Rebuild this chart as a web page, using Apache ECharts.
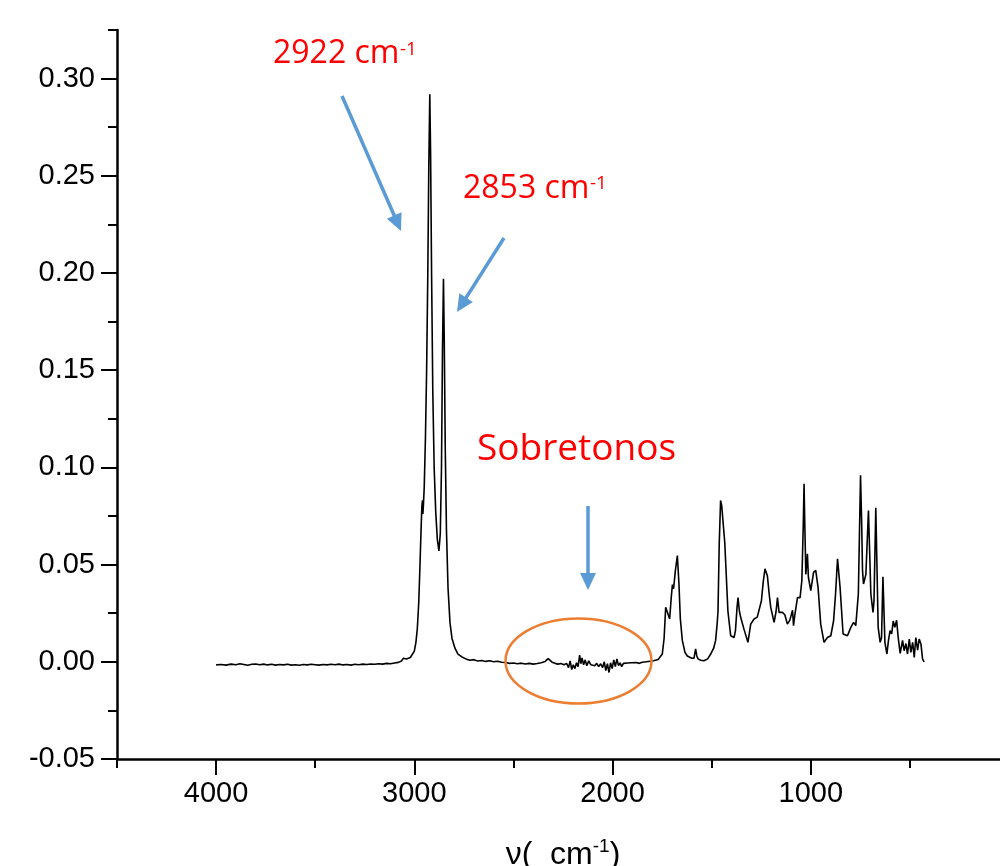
<!DOCTYPE html>
<html>
<head>
<meta charset="utf-8">
<script src="https://cdn.jsdelivr.net/npm/echarts@6/dist/echarts.min.js"></script>
<style>
html,body{margin:0;padding:0;background:#fff;overflow:hidden;}
#chart{width:1000px;height:866px;}
</style>
</head>
<body>
<div id="chart"></div>
<script>
// ---- Data ----
const wavenumber = [
4000,3975,3950,3925,3900,3880,3860,3840,3820,3800,3780,3760,3740,3720,3700,3680,3660,3640,3620,3600,
3580,3560,3540,3520,3500,3480,3460,3440,3420,3400,3380,3360,3340,3320,3300,3280,3260,3240,3220,3200,
3180,3160,3140,3120,3100,3080,3065,3055,3048,3040,3030,3020,3010,3000,2992,2985,2978,2972,2966,2962,
2959,2957,2955,2950,2944,2938,2932,2927,2922,2918,2913,2907,2900,2892,2884,2876,2869,2863,2858,2853,
2849,2844,2838,2830,2820,2810,2795,2780,2760,2740,2720,2700,2680,2660,2640,2620,2600,2580,2560,2540,
2520,2500,2480,2460,2440,2420,2400,2380,2360,2340,2325,2315,2305,2290,2275,2260,2245,2232,2222,2214,
2206,2198,2190,2182,2174,2166,2160,2154,2146,2138,2130,2120,2110,2100,2090,2080,2070,2060,2050,2042,
2034,2026,2018,2010,2002,1994,1986,1978,1970,1962,1954,1945,1935,1925,1915,1905,1895,1880,1865,1850,
1830,1810,1793,1770,1749,1740,1732,1725,1712,1704,1698,1692,1683,1673,1665,1658,1648,1635,1623,1600,
1589,1581,1575,1569,1555,1539,1520,1505,1490,1480,1472,1468,1462,1455,1449,1446,1441,1438,1434,1429,
1418,1404,1395,1387,1380,1372,1367,1360,1354,1337,1317,1303,1286,1270,1261,1249,1240,1231,1225,1219,
1210,1202,1185,1175,1168,1160,1143,1131,1118,1106,1092,1087,1081,1067,1054,1045,1038,1034,1030,1025,
1017,1012,1000,986,975,963,950,933,916,899,885,875,865,858,852,837,815,798,784,773,
760,749,743,739,734,722,709,697,686,681,672,660,650,643,636,626,616,608,600,592,
584,576,567,559,549,537,529,520,512,503,495,486,478,470,461,453,444,436,428
];
const absorbance = [
-0.0016,-0.0014,-0.0017,-0.0012,-0.0015,-0.0010,-0.0014,-0.0018,-0.0013,-0.0011,-0.0015,-0.0012,-0.0016,-0.0013,-0.0017,-0.0014,-0.0016,-0.0013,-0.0017,-0.0015,
-0.0018,-0.0014,-0.0016,-0.0013,-0.0015,-0.0017,-0.0014,-0.0016,-0.0013,-0.0015,-0.0012,-0.0016,-0.0014,-0.0017,-0.0013,-0.0015,-0.0012,-0.0014,-0.0011,-0.0013,
-0.0010,-0.0012,-0.0008,-0.0010,-0.0006,-0.0003,0.0004,0.0018,0.0024,0.0014,0.0015,0.0022,0.0032,0.0055,0.010,0.017,0.030,0.048,0.068,0.080,
0.083,0.076,0.079,0.090,0.115,0.150,0.200,0.255,0.292,0.262,0.200,0.140,0.100,0.077,0.063,0.057,0.066,0.100,0.160,0.197,
0.165,0.110,0.068,0.038,0.020,0.012,0.007,0.004,0.0025,0.0015,0.0008,0.0011,0.0004,0.0007,0.0002,0.0005,0.0000,0.0003,-0.0002,-0.0004,
-0.0008,-0.0006,-0.0010,-0.0007,-0.0011,-0.0008,-0.0012,-0.0009,-0.0005,0.0002,0.0016,0.0010,-0.0002,-0.0008,-0.0012,-0.0009,-0.0015,-0.0008,-0.0030,0.0005,
-0.0040,-0.0015,-0.0035,-0.0005,-0.0025,0.0035,-0.0010,0.0020,-0.0015,0.0010,-0.0020,0.0005,-0.0015,-0.0005,-0.0020,-0.0008,-0.0025,-0.0010,-0.0030,0.0000,
-0.0045,-0.0010,-0.0055,-0.0005,-0.0035,0.0010,-0.0025,0.0015,-0.0020,-0.0005,-0.0025,-0.0008,-0.0018,-0.0006,-0.0014,-0.0005,-0.0012,-0.0004,-0.0008,-0.0002,
0.0000,0.0003,0.0005,0.0012,0.004,0.012,0.028,0.026,0.022,0.033,0.0397,0.0376,0.047,0.0546,0.040,0.022,0.011,0.005,0.003,0.0018,
0.0019,0.0067,0.003,0.0015,0.0008,0.0005,0.0015,0.004,0.007,0.011,0.020,0.026,0.060,0.083,0.080,0.081,0.070,0.069,0.0615,0.0615,
0.026,0.0134,0.0125,0.0125,0.016,0.028,0.033,0.026,0.023,0.0168,0.010,0.0194,0.022,0.023,0.024,0.0314,0.041,0.0478,0.046,0.0443,
0.035,0.028,0.0203,0.026,0.033,0.0254,0.0254,0.0242,0.0194,0.0213,0.0265,0.0186,0.0237,0.033,0.033,0.0418,0.070,0.0916,0.070,0.045,
0.0555,0.0435,0.0366,0.046,0.047,0.038,0.0194,0.010,0.0125,0.0134,0.021,0.035,0.053,0.045,0.038,0.0143,0.0134,0.0177,0.0203,0.0186,
0.035,0.0959,0.070,0.047,0.040,0.045,0.0778,0.035,0.0254,0.0314,0.0792,0.0177,0.010,0.0125,0.0438,0.010,0.004,0.011,0.016,0.0143,
0.021,0.0177,0.0214,0.0125,0.0043,0.011,0.0057,0.0094,0.004,0.0117,0.0048,0.010,0.0022,0.0125,0.0060,0.0117,0.009,0.0014,0.0000
];
const yMajorTicks = [-0.05, 0.00, 0.05, 0.10, 0.15, 0.20, 0.25, 0.30];
const yMinorTicks = [-0.025, 0.025, 0.075, 0.125, 0.175, 0.225, 0.275, 0.325];
const xMajorTicks = [0, 1000, 2000, 3000, 4000];
const xLabelTicks = [1000, 2000, 3000, 4000];
const xMinorTicks = [500, 1500, 2500, 3500, 4500];
const annotations = {peak1: '2922 cm', peak2: '2853 cm', sup: '-1', overtone: 'Sobretonos'};

// ---- Chart ----
const seriesData = wavenumber.map((w, i) => [w, absorbance[i]]);
const chart = echarts.init(document.getElementById('chart'), null, {renderer: 'canvas', width: 1000, height: 866});
const TICKFONT = 'Liberation Sans, Arial, sans-serif';
const BLUE = '#5B9BD5';
const RED = '#FF0000';

function arrow(x1, y1, x2, y2) {
  const dx = x2 - x1, dy = y2 - y1, L = Math.hypot(dx, dy);
  const ux = dx / L, uy = dy / L, hl = 17, hw = 8;
  const bx = x2 - ux * hl, by = y2 - uy * hl;
  return [
    {type: 'line', z: 100, shape: {x1: x1, y1: y1, x2: bx + ux * 2, y2: by + uy * 2},
     style: {stroke: BLUE, lineWidth: 3.5}},
    {type: 'polygon', z: 100, shape: {points: [[x2, y2], [bx - uy * hw, by + ux * hw], [bx + uy * hw, by - ux * hw]]},
     style: {fill: BLUE}}
  ];
}
function label(text, x, y, size) {
  return {type: 'text', z: 100, x: x, y: y,
    style: {text: text, fill: RED, fontSize: size, fontFamily: 'Open Sans, Noto Sans, sans-serif', verticalAlign: 'middle', align: 'left'}};
}

const axisCommon = {
  type: 'value',
  splitLine: {show: false},
  axisLine: {show: true, onZero: false, lineStyle: {color: '#000', width: 2.5}},
};

const option = {
  animation: false,
  backgroundColor: '#fff',
  grid: {left: 117, width: 892, top: 30, height: 729, containLabel: false, outerBoundsMode: 'none'},
  xAxis: [
    Object.assign({}, axisCommon, {
      min: 0, max: 4500, inverse: true, position: 'bottom',
      axisTick: {show: true, inside: false, length: 16, lineStyle: {color: '#000', width: 2}, customValues: xMajorTicks},
      axisLabel: {show: true, margin: 20, color: '#000', fontSize: 29, fontFamily: TICKFONT, customValues: xLabelTicks,
        formatter: v => String(v)},
      name: '{a|ν(  cm}{s|-1}{a|)}',
      nameLocation: 'middle', nameGap: 78,
      nameTextStyle: {color: '#000', fontSize: 32, fontFamily: TICKFONT,
        rich: {a: {fontSize: 32, fontFamily: TICKFONT, color: '#000', verticalAlign: 'bottom'},
               s: {fontSize: 19, fontFamily: TICKFONT, color: '#000', verticalAlign: 'top', padding: [0, 0, 15, 0]}}}
    }),
    Object.assign({}, axisCommon, {
      min: 0, max: 4500, inverse: true, position: 'bottom',
      axisLine: {show: false, onZero: false},
      axisTick: {show: true, inside: false, length: 9, lineStyle: {color: '#000', width: 2}, customValues: xMinorTicks},
      axisLabel: {show: false}
    })
  ],
  yAxis: [
    Object.assign({}, axisCommon, {
      min: -0.05, max: 0.325, position: 'left',
      axisTick: {show: true, inside: false, length: 16, lineStyle: {color: '#000', width: 2}, customValues: yMajorTicks},
      axisLabel: {show: true, margin: 22, color: '#000', fontSize: 29, fontFamily: TICKFONT, customValues: yMajorTicks,
        formatter: v => v.toFixed(2)}
    }),
    Object.assign({}, axisCommon, {
      min: -0.05, max: 0.325, position: 'left',
      axisLine: {show: false, onZero: false},
      axisTick: {show: true, inside: false, length: 9, lineStyle: {color: '#000', width: 2}, customValues: yMinorTicks},
      axisLabel: {show: false}
    })
  ],
  series: [{
    type: 'line',
    xAxisIndex: 0, yAxisIndex: 0,
    data: seriesData,
    showSymbol: false,
    symbol: 'none',
    lineStyle: {color: '#000', width: 1.6},
    z: 5
  }],
  graphic: [
    {type: 'ellipse', z: 90, shape: {cx: 578.5, cy: 661, rx: 73, ry: 42.5},
     style: {fill: null, stroke: '#ED7D31', lineWidth: 2.5}},
    ...arrow(342, 96, 401, 231),
    ...arrow(504, 238, 457, 312),
    ...arrow(588, 506, 588, 590),
    label(annotations.peak1, 273, 54, 32),
    label(annotations.sup, 400, 50, 19),
    label(annotations.peak2, 463, 189, 32),
    label(annotations.sup, 590, 184, 19),
    label(annotations.overtone, 477, 449, 37)
  ]
};
chart.setOption(option);
</script>
</body>
</html>
